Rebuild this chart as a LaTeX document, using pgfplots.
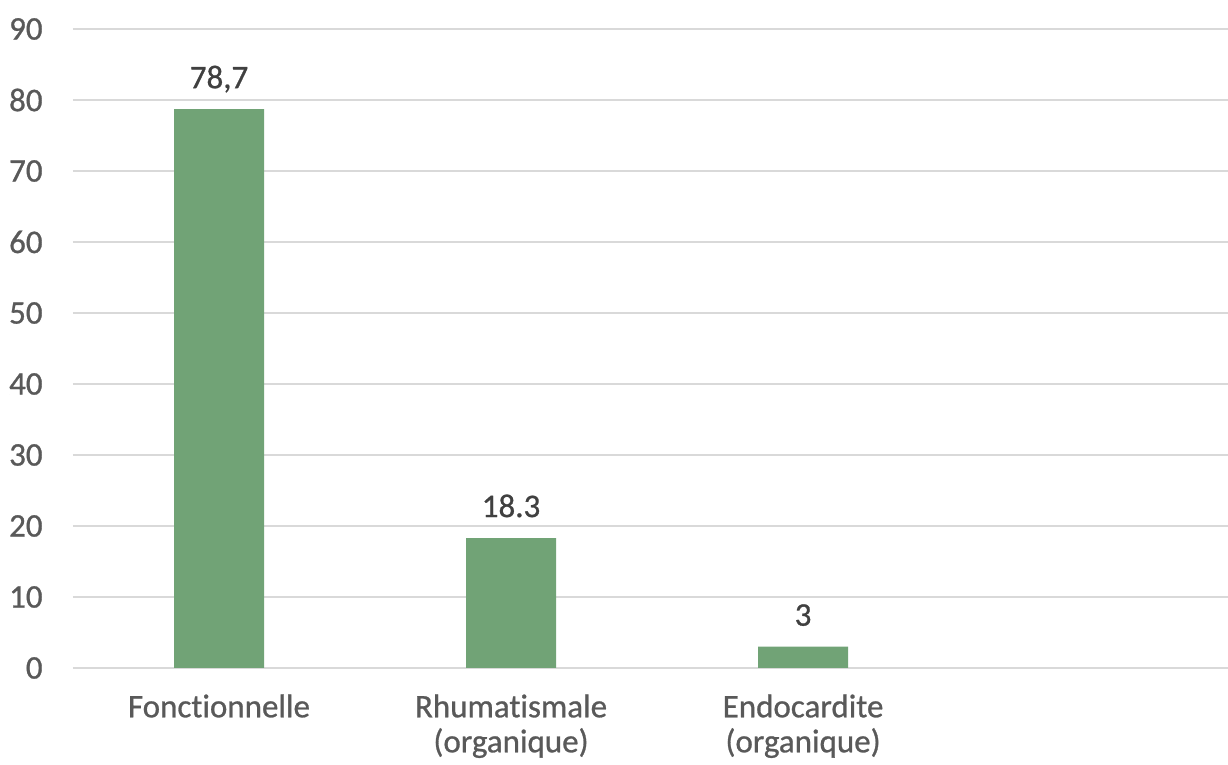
\documentclass[border=0pt]{standalone}
\usepackage{pgfplots}
\pgfplotsset{compat=1.18}
\usepackage{pgfplotstable}
\usepackage{fontspec}
\setmainfont{Carlito}[Ligatures=NoCommon]
% slightly heavier face for all chart text
\newfontfamily\chartfam{Carlito}[Ligatures=NoCommon, FakeBold=0.8]

\definecolor{barcol}{HTML}{71A376}
\definecolor{txtgray}{HTML}{595959}
\definecolor{lblgray}{HTML}{404040}
\definecolor{gridgray}{HTML}{D9D9D9}

\pgfplotstableread{
x y label
0 78.7 78,7
1 18.3 18.3
2 3 3
}\datatable

\newcommand{\chartfont}{\chartfam\fontsize{16.5}{17.5}\selectfont}

\begin{document}
\begin{tikzpicture}
\begin{axis}[
  at={(0,0)}, anchor=south west,
  scale only axis,
  width=577.5pt, height=319.5pt,
  xmin=-0.5, xmax=3.455,
  ymin=0, ymax=90,
  ytick={0,10,...,90},
  xtick={0,1,2},
  xticklabels={Fonctionnelle,{Rhumatismale\\(organique)},{Endocardite\\(organique)}},
  axis line style={draw=none},
  tick style={draw=none},
  major tick length=0pt,
  ymajorgrids,
  grid style={gridgray, line width=0.6pt},
  /pgf/number format/assume math mode=true,
  yticklabel style={font=\chartfont, text=txtgray, anchor=east, inner sep=0pt, xshift=-15pt},
  xticklabel style={font=\chartfont, text=txtgray, align=center, anchor=north, inner sep=0pt, yshift=-13pt},
  ybar, bar width=45pt,
  nodes near coords,
  point meta=explicit symbolic,
  every node near coord/.append style={font=\chartfont, text=lblgray, anchor=base, inner sep=0pt, yshift=10.5pt},
]
\addplot[fill=barcol, draw=none] table[x=x, y=y, meta=label] {\datatable};
\end{axis}
\pgfresetboundingbox
\path (-36.5pt,-48.5pt) rectangle (577.5pt,334pt);
\end{tikzpicture}
\end{document}
